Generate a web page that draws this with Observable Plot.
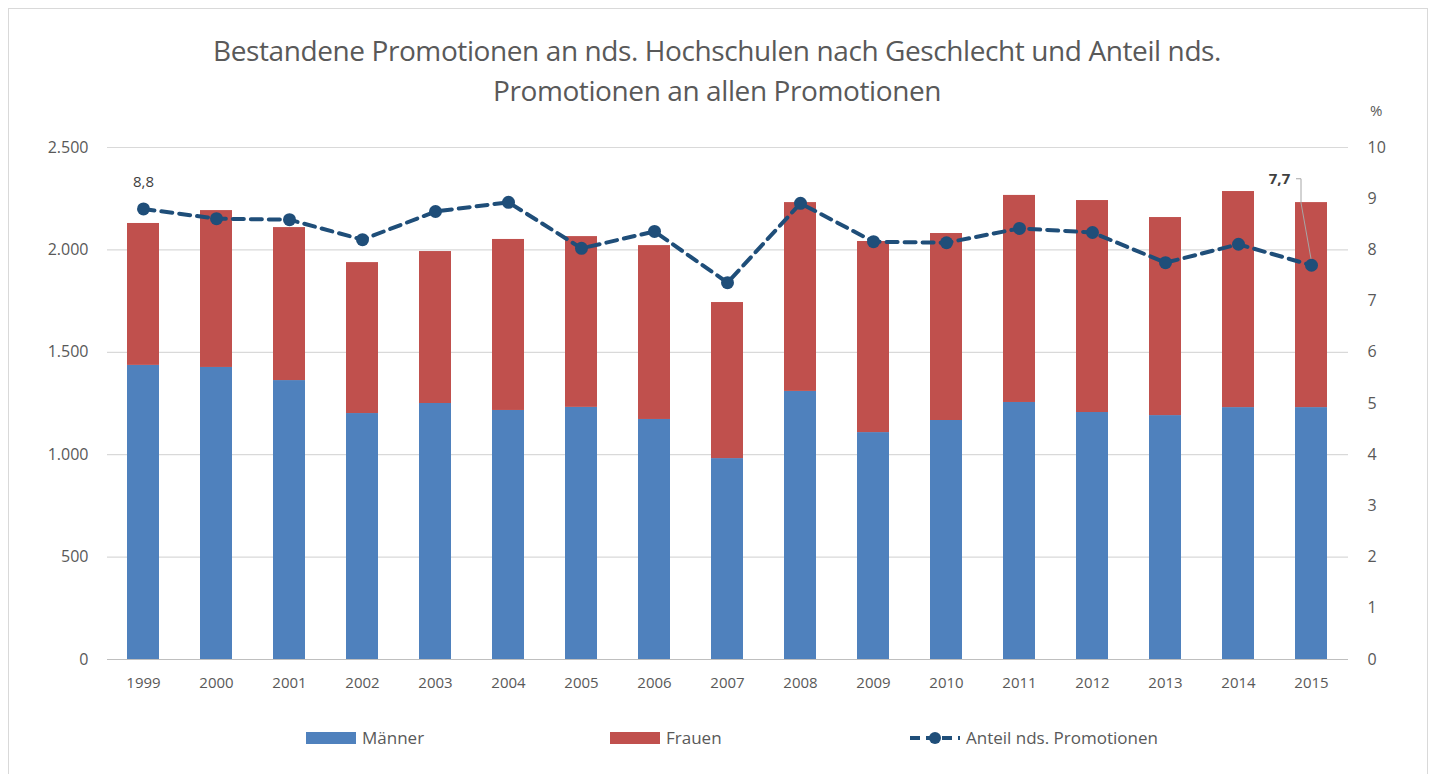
<!DOCTYPE html>
<html>
<head>
<meta charset="utf-8">
<script src="https://cdn.jsdelivr.net/npm/d3@7"></script>
<script src="https://cdn.jsdelivr.net/npm/@observablehq/plot@0.6"></script>
<style>
  html, body { margin: 0; padding: 0; background: #fff; }
  #wrap { position: relative; width: 1434px; height: 774px; overflow: hidden; font-family: "Open Sans", Lato, sans-serif; }
  #frame { position: absolute; left: 8px; top: 8px; width: 1420px; height: 768px; border: 1px solid #d9d9d9; box-sizing: border-box; }
  #title { position: absolute; left: 0; top: 30px; width: 1434px; text-align: center; font-size: 28px; line-height: 40px; color: #595959; letter-spacing: -0.4px; }
  #pct { position: absolute; left: 1370px; top: 100px; font-size: 15px; color: #595959; }
  #chart { position: absolute; left: 0; top: 110px; }
  #legend { position: absolute; top: 726px; left: 0; width: 1434px; height: 24px; font-size: 17px; color: #595959; }
  .li { position: absolute; display: flex; align-items: center; }
  .sw { width: 50px; height: 12px; margin-right: 6px; }
</style>
</head>
<body>
<div id="wrap">
  <div id="frame"></div>
  <div id="title">Bestandene Promotionen an nds. Hochschulen nach Geschlecht und Anteil nds.<br>Promotionen an allen Promotionen</div>
  <div id="pct">%</div>
  <div id="chart"></div>
  <div id="legend">
    <div class="li" style="left:306px;top:0"><div class="sw" style="background:#4f81bd"></div>Männer</div>
    <div class="li" style="left:610px;top:0"><div class="sw" style="background:#c0504d"></div>Frauen</div>
    <div class="li" style="left:908px;top:0">
      <svg width="54" height="16" style="margin-right:4px"><line x1="2" y1="8" x2="52" y2="8" stroke="#1f4e79" stroke-width="4" stroke-dasharray="10,6"/><circle cx="27" cy="8" r="6" fill="#1f4e79"/></svg>Anteil nds. Promotionen</div>
  </div>
</div>
<script>
const years = ["1999","2000","2001","2002","2003","2004","2005","2006","2007","2008","2009","2010","2011","2012","2013","2014","2015"];
const maenner = [1436,1426,1362,1201,1250,1216,1231,1172,981,1309,1108,1167,1255,1206,1191,1230,1230];
const gesamt  = [2129,2192,2109,1938,1992,2051,2065,2021,1743,2231,2041,2080,2266,2241,2158,2285,2231];
const anteil  = [8.8,8.61,8.59,8.2,8.75,8.93,8.03,8.36,7.36,8.91,8.16,8.14,8.42,8.34,7.75,8.11,7.7];
const leftTicks = [0,500,1000,1500,2000,2500];
const rightTicks = [0,1,2,3,4,5,6,7,8,9,10];

const PCT = 250; // 10 % on the right axis == 2.500 on the left axis

const bars = [];
years.forEach((y,i) => {
  bars.push({year: y, g: "Männer", v: maenner[i]});
  bars.push({year: y, g: "Frauen", v: gesamt[i] - maenner[i]});
});
const line = years.map((y,i) => ({year: y, p: anteil[i]}));

const de = d3.formatLocale({decimal: ",", thousands: ".", grouping: [3], currency: ["", " €"]});
const fmt = de.format(",");
const fmtP = de.format(",.1f");

const chart = Plot.plot({
  width: 1434,
  height: 600,
  marginLeft: 107,
  marginRight: 86,
  marginTop: 37,
  marginBottom: 51,
  style: {fontFamily: "'Open Sans', Lato, sans-serif", fontSize: "15px", color: "#595959", background: "transparent"},
  x: {domain: years, paddingInner: 0.56, paddingOuter: 0.28, label: null},
  y: {domain: [0, 2500], label: null},
  color: {domain: ["Männer", "Frauen"], range: ["#4f81bd", "#c0504d"]},
  marks: [
    Plot.ruleY(leftTicks.filter(d => d > 0), {stroke: "#d9d9d9", strokeWidth: 1.2}),
    Plot.axisY(leftTicks, {anchor: "left", tickSize: 0, tickPadding: 19, tickFormat: fmt, fill: "#595959", fontSize: 16}),
    Plot.axisY(rightTicks.map(d => d * PCT), {anchor: "right", tickSize: 0, tickPadding: 19, tickFormat: d => String(d / PCT), fill: "#595959", fontSize: 16, textAnchor: "start"}),
    Plot.barY(bars, {x: "year", y: "v", fill: "g", order: ["Männer", "Frauen"]}),
    Plot.ruleY([0], {stroke: "#bfbfbf", strokeWidth: 1.2}),
    Plot.axisX({tickSize: 0, tickPadding: 18, fill: "#595959", fontSize: 15}),
    Plot.lineY(line, {x: "year", y: d => d.p * PCT, stroke: "#1f4e79", strokeWidth: 4, strokeDasharray: "11,7"}),
    Plot.dot(line, {x: "year", y: d => d.p * PCT, r: 6.5, fill: "#1f4e79"}),
    Plot.text(line.filter(d => d.year === "1999"), {x: "year", y: d => d.p * PCT, text: d => fmtP(d.p), dy: -27, fill: "#404040", fontSize: 15}),
    Plot.text(line.filter(d => d.year === "2015"), {x: "year", y: d => d.p * PCT, text: d => fmtP(d.p), dx: -32, dy: -86, fill: "#404040", fontSize: 15, fontWeight: "bold"})
  ]
});
document.getElementById("chart").appendChild(chart);

// leader line for the 7,7 label, positioned with the chart's own scales
const xs = chart.scale("x"), ys = chart.scale("y");
const last = line[line.length - 1];
const cx = xs.apply(last.year) + xs.bandwidth / 2;
const cy = ys.apply(last.p * PCT);
const svg = d3.select(chart.tagName.toLowerCase() === "svg" ? chart : chart.querySelector("svg"));
svg.append("path")
  .attr("d", `M${cx - 15},${cy - 86} L${cx - 10},${cy - 86} L${cx - 10},${cy - 62} L${cx},${cy - 6}`)
  .attr("fill", "none").attr("stroke", "#a6a6a6").attr("stroke-width", 1);
</script>
</body>
</html>
